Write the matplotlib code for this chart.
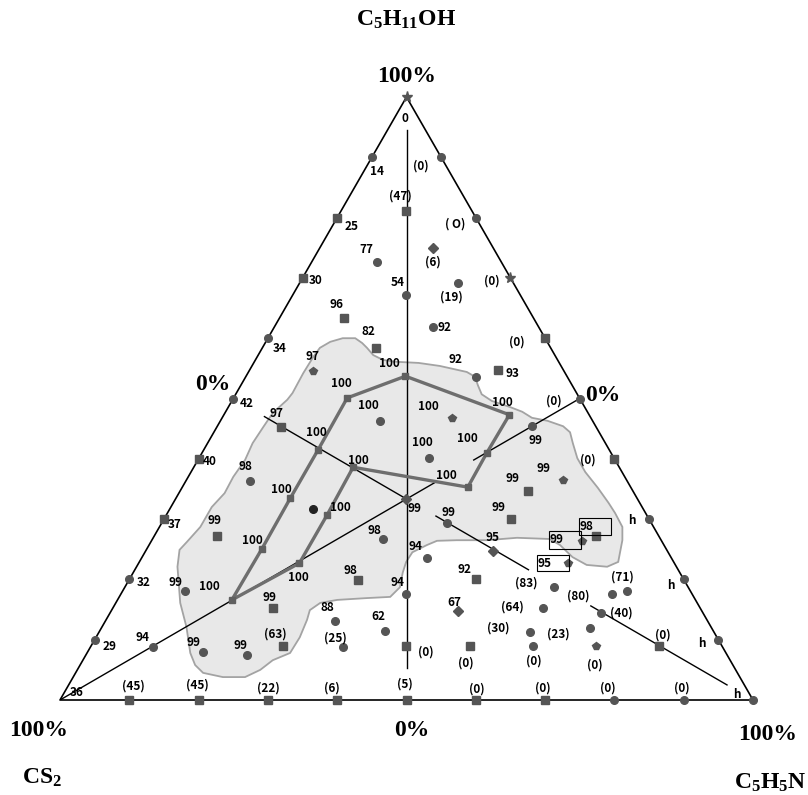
import matplotlib
matplotlib.use("Agg")
import matplotlib.pyplot as plt
from matplotlib import transforms as mtransforms
from matplotlib.patches import Polygon, Rectangle

plt.rcParams["mathtext.fontset"] = "custom"
plt.rcParams["mathtext.rm"] = "Liberation Serif"
plt.rcParams["mathtext.it"] = "Liberation Serif"
plt.rcParams["mathtext.bf"] = "Liberation Serif:bold"

# ---------------- compositions (percent) ----------------
# Left edge (C5H5N = 0)
left_oh = [90, 80, 70, 60, 50, 40, 30, 20, 10, 0]
left_lbl = ["14", "25", "30", "34", "42", "40", "37", "32", "29", "36"]
left_mk = ["o", "s", "s", "o", "o", "s", "s", "o", "o", None]

# Bottom edge (C5H11OH = 0)
bottom_py = [10, 20, 30, 40, 50, 60, 70, 80, 90, 100]
bottom_lbl = ["(45)", "(45)", "(22)", "(6)", "(5)", "(0)", "(0)", "(0)", "(0)", "h"]
bottom_mk = ["s", "s", "s", "s", "s", "s", "s", "o", "o", "o"]

# Right edge (CS2 = 0)
right_oh = [90, 80, 70, 60, 50, 40, 30, 20, 10]
right_lbl = ["(0)", "( O)", "(0)", "(0)", "(0)", "(0)", "h", "h", "h"]
right_mk = ["o", "o", "*", "s", "o", "s", "o", "o", "o"]

# Interior mixtures: C5H11OH %, C5H5N %
in_oh = [81.1, 72.6, 75.0, 69.2, 67.2, 63.3, 61.9, 58.4, 53.6, 54.7,
         54.6, 46.3, 45.3, 46.8, 40.1, 45.4, 36.5, 34.7, 36.3, 31.7,
         27.2, 26.7, 29.4, 30.0, 23.5, 24.7, 18.1, 15.3, 19.9, 17.6,
         20.1, 18.7, 8.8, 8.0, 7.5, 9.0, 13.1, 11.4, 8.8, 9.0,
         14.8, 15.3, 11.3, 9.0, 9.0, 11.9, 9.0, 17.6, 18.1, 14.4,
         9.0, 33.3]
in_py = [9.4, 9.4, 16.3, 22.8, 16.3, 9.3, 22.9, 16.4, 33.2, 35.8,
         9.2, 23.0, 9.3, 33.2, 33.2, 45.4, 54.3, 50.2, 9.2, 20.7,
         9.1, 33.2, 41.1, 50.1, 41.2, 50.1, 9.0, 23.1, 33.1, 41.1,
         50.0, 62.0, 9.0, 16.6, 23.3, 27.7, 33.2, 41.2, 36.4, 45.4,
         50.0, 62.1, 62.1, 54.7, 63.8, 70.5, 72.8, 70.9, 72.8, 70.9,
         81.9, 33.3]
in_lbl = ["(47)", "77", "(6)", "(19)", "54", "96", "92", "82", "92", "93",
          "97", "100", "97", "100", "100", "99", "99", "99", "98", "",
          "99", "98", "99", "99", "94", "95", "99", "99", "98", "94",
          "92", "(83)", "94", "99", "99", "(63)", "88", "62", "(25)", "(0)",
          "67", "(64)", "(30)", "(0)", "(0)", "(23)", "(0)", "(80)", "(71)", "(40)",
          "(0)", "99"]
in_mk = ["s", "o", "D", "o", "o", "s", "o", "s", "o", "s",
         "p", "o", "s", "p", "o", "o", "p", "s", "o", "o",
         "s", "o", "o", "s", "o", "D", "o", "s", "s", "o",
         "s", "o", "o", "o", "o", "s", "o", "o", "o", "s",
         "D", "o", "o", "s", "o", "o", "p", "o", "o", "o",
         "s", "D"]

# Boxed mixtures
box_oh = [27.2, 26.4, 22.7]
box_py = [63.7, 62.1, 61.9]
box_lbl = ["98", "99", "95"]
box_mk = ["s", "p", "p"]

# Single-phase boundary (tie polygon)
poly_oh = [16.6, 25.0, 33.5, 41.5, 50.1, 53.7, 47.3, 41.0, 35.3, 38.6, 30.7, 22.7]
poly_py = [16.5, 16.6, 16.5, 16.5, 16.4, 23.0, 41.2, 41.1, 41.2, 23.0, 23.2, 23.2]
poly_lbl = ["100"] * 12

# Miscible region outline
reg_oh = [34.3, 37.0, 39.8, 42.6, 45.3, 47.6, 49.8, 50.9, 54.2, 56.9,
          58.4, 59.4, 60.0, 60.0, 59.2, 58.4, 57.2, 56.4, 56.1, 55.9,
          55.4, 54.4, 53.6, 52.2, 50.7, 49.6, 48.6, 47.8, 46.8, 46.3,
          45.4, 44.4, 42.6, 40.1, 37.8, 35.2, 32.7, 31.0, 28.7, 26.5,
          22.9, 22.1, 22.4, 23.7, 25.7, 26.7, 26.9, 26.5, 26.5, 26.4,
          25.7, 24.5, 22.9, 21.1, 18.7, 17.1, 16.9, 16.6, 16.1, 14.9,
          13.3, 10.4, 7.8, 6.6, 5.0, 3.8, 3.8, 4.5, 5.8, 7.8,
          12.1, 16.1, 22.1, 24.9, 26.2, 28.7, 32.0]
reg_py = [6.6, 6.5, 6.8, 6.5, 6.7, 6.9, 7.9, 8.1, 8.0, 8.1,
          8.3, 9.3, 10.8, 12.6, 14.0, 15.1, 16.6, 18.4, 20.3, 23.8,
          27.1, 31.5, 33.1, 34.2, 35.5, 37.5, 40.6, 42.8, 44.7, 47.2,
          49.9, 51.4, 52.7, 54.6, 56.9, 60.0, 62.8, 64.6, 66.8, 67.9,
          69.1, 67.9, 64.8, 62.1, 59.3, 57.3, 52.5, 48.3, 44.0, 41.2,
          40.1, 38.6, 38.5, 38.9, 39.7, 39.1, 35.8, 31.7, 29.5, 28.6,
          29.0, 29.4, 29.3, 27.4, 26.4, 24.8, 21.6, 18.4, 16.6, 14.9,
          12.2, 9.3, 5.9, 4.8, 5.2, 5.9, 5.9]

# Guide lines: (C5H11OH %, C5H5N %) end points
guide_segs = [
    [(94.5, 2.75), (5.3, 47.35)],
    [(0.0, 0.0), (36.0, 36.0)],
    [(39.8, 39.8), (50.0, 50.0)],
    [(47.0, 6.0), (33.3, 33.4)],
    [(30.5, 39.0), (21.6, 56.8)],
    [(15.6, 68.8), (2.5, 95.0)],
]

# ---------------- layout (label offsets in pixels, image y downward) ----------------
left_off = [(5, 14), (14, 9), (13, 3), (12, 10), (13, 5), (11, 3), (11, 5), (14, 3), (15, 7), (17, -7)]
bottom_off = [(4, -14), (-1, -15), (0, -12), (-5, -12), (-2, -16), (1, -11), (-2, -12), (-7, -12), (-2, -12), (-16, -6)]
right_off = [(-20, 9), (-21, 6), (-19, 3), (-28, 4), (-26, 3), (-27, 1), (-17, 1), (-13, 6), (-16, 4)]
in_off = [(-6, -15), (-10, -13), (0, 14), (-6, 14), (-8, -12), (-7, -14), (11, 1), (-8, -16), (-20, -17), (15, 3),
          (0, -14), (-11, -15), (-5, -13), (-24, -11), (-7, -16), (4, 14), (-19, -11), (-16, -12), (-4, -15), (0, 0),
          (-3, -15), (-8, -8), (2, -10), (-13, -12), (-11, -12), (0, -14), (-10, -8), (-4, -10), (-8, -10), (-8, -11),
          (-12, -9), (-28, -4), (-10, -9), (-9, -9), (-7, -9), (-8, -12), (-8, -14), (-7, -15), (-7, -9), (20, 6),
          (-3, -8), (-31, -1), (-31, -4), (-4, 17), (0, 15), (-31, 6), (-1, 19), (-34, 2), (-5, -14), (20, 0),
          (4, -11), (8, 9)]
poly_off = [(-22, -13), (-9, -9), (-9, -8), (-2, -17), (-6, -14), (-16, -13), (-7, -12), (-20, -14), (-21, -12),
            (5, -7), (13, -7), (-1, 14)]
box_txt_off = [(-16, -9), (-32, -1), (-30, 0)]
box_rect = [(-17, -1, 32, 17), (-33, 8, 32, 18), (-31, 8, 32, 16)]   # dx, bottom dy (down), w, h


def tern(oh, py):
    """(C5H11OH %, C5H5N %) -> cartesian position in the triangle."""
    return py / 100.0 + oh / 200.0, oh / 100.0


MARK = "#555555"
LBL_FONT = dict(family=["Noto Sans CJK JP", "DejaVu Sans"], fontweight="bold", fontsize=8.5)
BIG_FONT = dict(family=["Liberation Serif", "DejaVu Serif"], fontsize=17, fontweight="bold")

fig = plt.figure(figsize=(8.08, 7.95), dpi=100)
ax = fig.add_axes([60 / 808, 95 / 795, 693 / 808, 603 / 795])
ax.set_xlim(0, 1)
ax.set_ylim(0, 1)
ax.axis("off")


def label(oh, py, text, off, **kw):
    x, y = tern(oh, py)
    opts = dict(LBL_FONT)
    opts.update(kw)
    ax.annotate(text, xy=(x, y), xytext=(off[0], -off[1]), textcoords="offset pixels",
                ha=opts.pop("ha", "center"), va="center", zorder=6, annotation_clip=False, **opts)


def marker(oh, py, mk, color=MARK, ms=5.5):
    if mk is None:
        return
    x, y = tern(oh, py)
    size = ms + 2.5 if mk == "*" else ms
    ax.plot([x], [y], marker=mk, color=color, ms=size, mec=color, ls="none", zorder=5, clip_on=False)


# miscible region
reg_xy = [tern(o, p) for o, p in zip(reg_oh, reg_py)]
ax.add_patch(Polygon(reg_xy, closed=True, fc="#e8e8e8", ec="#a3a3a3", lw=1.3, zorder=1))

# triangle frame
frame = [tern(100, 0), tern(0, 0), tern(0, 100), tern(100, 0)]
ax.plot([p[0] for p in frame], [p[1] for p in frame], color="black", lw=1.2, zorder=3, clip_on=False)

# guide lines
for (o1, p1), (o2, p2) in guide_segs:
    x1, y1 = tern(o1, p1)
    x2, y2 = tern(o2, p2)
    ax.plot([x1, x2], [y1, y2], color="black", lw=1.0, zorder=3)

# tie polygon
closed_oh = poly_oh + poly_oh[:1]
closed_py = poly_py + poly_py[:1]
px = [tern(o, p)[0] for o, p in zip(closed_oh, closed_py)]
py_ = [tern(o, p)[1] for o, p in zip(closed_oh, closed_py)]
ax.plot(px, py_, color="#6e6e6e", lw=2.4, zorder=4, solid_joinstyle="miter")
for o, p, t, off in zip(poly_oh, poly_py, poly_lbl, poly_off):
    marker(o, p, "s", color="#606060", ms=4)
    label(o, p, t, off)

# apex
marker(100, 0, "*")
label(100, 0, "0", (-2, 21))

# edge points
for o, t, m, off in zip(left_oh, left_lbl, left_mk, left_off):
    marker(o, 0, m)
    label(o, 0, t, off)
for p, t, m, off in zip(bottom_py, bottom_lbl, bottom_mk, bottom_off):
    marker(0, p, m)
    label(0, p, t, off)
for o, t, m, off in zip(right_oh, right_lbl, right_mk, right_off):
    marker(o, 100 - o, m)
    label(o, 100 - o, t, off)

# interior points
for o, p, t, m, off in zip(in_oh, in_py, in_lbl, in_mk, in_off):
    marker(o, p, m, color="#222222" if t == "" else MARK)
    if t:
        label(o, p, t, off)

# boxed points
for o, p, t, m, toff, (bx, by, bw, bh) in zip(box_oh, box_py, box_lbl, box_mk, box_txt_off, box_rect):
    marker(o, p, m)
    label(o, p, t, toff, ha="left")
    x, y = tern(o, p)
    tr = mtransforms.ScaledTranslation(x, y, ax.transData)
    ax.add_artist(Rectangle((bx, -by), bw, bh, transform=tr, fill=False,
                            ec="black", lw=0.8, zorder=6, clip_on=False))

# axis titles and percentages
label(100, 0, "100%", (0, -21), **BIG_FONT)
label(100, 0, r"$\mathbf{C_5H_{11}OH}$", (0, -77), **BIG_FONT)
label(50, 0, "0%", (-20, -14), **BIG_FONT)
label(50, 50, "0%", (23, -3), **BIG_FONT)
label(0, 0, "100%", (-21, 31), **BIG_FONT)
label(0, 0, r"$\mathbf{CS_2}$", (-18, 78), **BIG_FONT)
label(0, 50, "0%", (5, 31), **BIG_FONT)
label(0, 100, "100%", (15, 35), **BIG_FONT)
label(0, 100, r"$\mathbf{C_5H_5N}$", (53, 83), ha="right", **BIG_FONT)

fig.savefig("out.png", dpi=100)
